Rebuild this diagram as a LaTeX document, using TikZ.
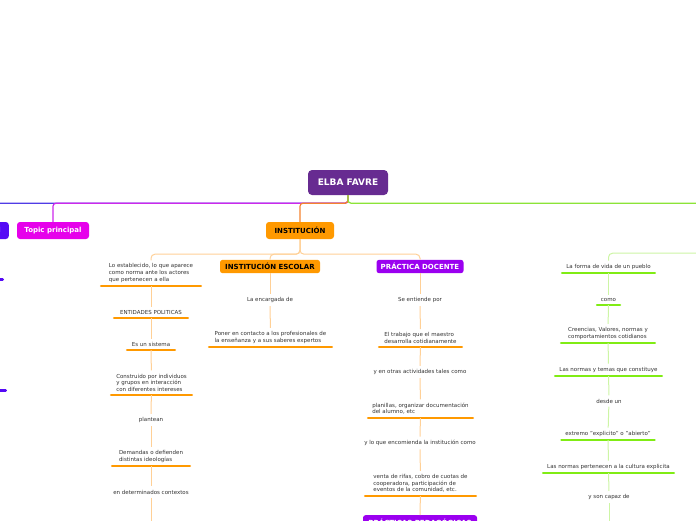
\documentclass[tikz,border=0pt]{standalone}
\usepackage{fontspec}
\setmainfont{DejaVu Sans}
\definecolor{rootpurple}{RGB}{103,43,145}
\definecolor{topicmag}{RGB}{230,0,235}
\definecolor{topicblue}{RGB}{85,10,245}
\definecolor{instorange}{RGB}{255,153,0}
\definecolor{docpurple}{RGB}{155,0,240}
\definecolor{maingreen}{RGB}{140,228,55}
\definecolor{culturegreen}{RGB}{128,236,20}
\definecolor{linkorange}{RGB}{255,208,150}
\definecolor{linkgreen}{RGB}{205,245,165}
\definecolor{linkblue}{RGB}{80,60,230}
\definecolor{linkmag}{RGB}{205,40,235}
\definecolor{txtgray}{RGB}{50,50,50}
\tikzset{
    rootbox/.style={fill=rootpurple, text=white, rounded corners=4pt,
                    font=\bfseries\fontsize{9}{10}\selectfont,
                    minimum width=80, minimum height=25},
    topic/.style={rounded corners=3pt, minimum height=17,
                  font=\bfseries\fontsize{7}{8}\selectfont},
    subtopic/.style={rounded corners=2.5pt, minimum height=13,
                     font=\bfseries\fontsize{7}{8}\selectfont},
    idea/.style={font=\fontsize{5.5}{6.7}\selectfont, text=txtgray,
                 align=left, inner xsep=5pt, inner ysep=3.3pt},
    underbar/.style={line width=2.6pt, line cap=round,
                     shorten <=1.3pt, shorten >=1.3pt},
    ideaul/.style={idea, append after command={
        (\tikzlastnode.south west) edge[underbar, draw=#1] (\tikzlastnode.south east)}},
    branch/.style={line width=1.2pt, rounded corners=3pt},
    link/.style={line width=1pt, rounded corners=4pt, draw=linkorange},
}
\begin{document}
\begin{tikzpicture}[x=1pt,y=-1pt]
    \useasboundingbox (0,0) rectangle (696,520);
    \clip (0,0) rectangle (696,520);

    % central topic and main branches
    \node[rootbox] (root) at (348,182.5) {ELBA FAVRE};
    \node[topic, fill=topicblue, text=white, anchor=east, inner xsep=8pt] (other) at (9,230.5) {Topic principal};
    \node[topic, fill=topicmag, text=white, minimum width=72] (topic) at (53,230.5) {Topic principal};
    \node[topic, fill=instorange, minimum width=68] (inst) at (300,230.5) {INSTITUCIÓN};
    \node[topic, fill=maingreen, minimum width=70] (cultura) at (760,230.5) {};
    \draw[branch, linkblue] (root.south) -- ++(0,8) -| (other.north);
    \draw[branch, linkmag] (root.south) -- ++(0,8) -| (topic.north);
    \draw[branch, instorange!80!linkmag] (root.south) -- ++(0,8) -| (inst.north);
    \draw[branch, maingreen] (root.south) -- ++(0,8) -| (cultura.north);

    % blue branch, only its edge is seen
    \node[ideaul=topicblue, minimum width=60, anchor=south east] (otra1) at (4,279.5) {};
    \node[ideaul=topicblue, minimum width=60, anchor=south east] (otra2) at (7,390.5) {};

    % institucion
    \node[ideaul=instorange, minimum width=102, anchor=south] (est) at (151,286) {Lo establecido, lo que aparece\\como norma ante los actores\\que pertenecen a ella};
    \node[subtopic, fill=instorange, minimum width=100] (esc) at (270,266.5) {INSTITUCIÓN ESCOLAR};
    \node[subtopic, fill=docpurple, text=white, minimum width=87] (doc) at (420,266.5) {PRÁCTICA DOCENTE};
    \draw[link] (inst.south) -- ++(0,15) -| (est.north);
    \draw[link] (inst.south) -- ++(0,15) -| (esc.north);
    \draw[link] (inst.south) -- ++(0,15) -| (doc.north);

    \node[ideaul=instorange, minimum width=76, anchor=south] (ent) at (151,318) {ENTIDADES POLITICAS};
    \node[ideaul=instorange, minimum width=50, anchor=south] (sis) at (151,350) {Es un sistema};
    \node[ideaul=instorange, minimum width=83, anchor=south] (cons) at (151.5,395) {Construido por individuos\\y grupos en interacción\\con diferentes intereses};
    \node[idea] (plan) at (151,420) {plantean};
    \node[ideaul=instorange, minimum width=80, anchor=south] (dem) at (151,466) {Demandas o defienden\\distintas ideologías};
    \node[idea] (ctx) at (151,492) {en determinados contextos};
    \coordinate (estfin) at (151,530);
    \draw[link] (est) -- (ent);
    \draw[link] (ent) -- (sis);
    \draw[link] (sis) -- (cons);
    \draw[link] (cons) -- (plan);
    \draw[link] (plan) -- (dem);
    \draw[link] (dem) -- (ctx);
    \draw[link] (ctx) -- (estfin);

    \node[idea] (enc) at (270,300) {La encargada de};
    \node[ideaul=instorange, minimum width=125, anchor=south] (pon) at (270.5,347) {Poner en contacto a los profesionales de\\la enseñanza y a sus saberes expertos};
    \draw[link] (esc) -- (enc);
    \draw[link] (enc) -- (pon);

    \node[idea] (ent2) at (420,300) {Se entiende por};
    \node[ideaul=instorange, minimum width=85, anchor=south] (trab) at (420.5,347) {El trabajo que el maestro\\desarrolla cotidianamente};
    \node[idea] (otras) at (420,372) {y en otras actividades tales como};
    \node[ideaul=instorange, minimum width=107, anchor=south] (plani) at (420.5,418) {planillas, organizar documentación\\del alumno, etc};
    \node[idea] (encom) at (420,443) {y lo que encomienda la institución como};
    \node[ideaul=instorange, minimum width=113, anchor=south] (venta) at (420.5,496) {venta de rifas, cobro de cuotas de\\cooperadora, participación de\\eventos de la comunidad, etc.};
    \node[subtopic, fill=docpurple, text=white, minimum width=114, anchor=north] (ped) at (420,515) {PRÁCTICAS PEDAGÓGICAS};
    \draw[link] (doc) -- (ent2);
    \draw[link] (ent2) -- (trab);
    \draw[link] (trab) -- (otras);
    \draw[link] (otras) -- (plani);
    \draw[link] (plani) -- (encom);
    \draw[link] (encom) -- (venta);
    \draw[link] (venta) -- (ped);

    % cultura
    \node[ideaul=culturegreen, minimum width=95, anchor=south] (vida) at (608.5,273) {La forma de vida de un pueblo};
    \node[ideaul=culturegreen, minimum width=25, anchor=south] (como) at (608.5,305) {como};
    \node[ideaul=culturegreen, minimum width=96, anchor=south] (cree) at (608,343) {Creencias, Valores, normas y\\comportamientos cotidianos};
    \node[ideaul=culturegreen, minimum width=109, anchor=south] (temas) at (608.5,376) {Las normas y temas que constituye};
    \node[idea] (desde) at (609,401) {desde un};
    \node[ideaul=culturegreen, minimum width=94, anchor=south] (ext) at (608,440) {extremo "explicito" o "abierto"};
    \node[ideaul=culturegreen, minimum width=133, anchor=south] (expl) at (608.5,473) {Las normas pertenecen a la cultura explicita};
    \node[idea] (capaz) at (609,497) {y son capaz de};
    \coordinate (culfin) at (609,530);
    \draw[link, draw=linkgreen] (cultura.south) -- ++(0,14) -| (vida.north);
    \draw[link, draw=linkgreen] (vida) -- (como);
    \draw[link, draw=linkgreen] (como) -- (cree);
    \draw[link, draw=linkgreen] (cree) -- (temas);
    \draw[link, draw=linkgreen] (temas) -- (desde);
    \draw[link, draw=linkgreen] (desde) -- (ext);
    \draw[link, draw=linkgreen] (ext) -- (expl);
    \draw[link, draw=linkgreen] (expl) -- (capaz);
    \draw[link, draw=linkgreen] (capaz) -- (culfin);

\end{tikzpicture}
\end{document}
